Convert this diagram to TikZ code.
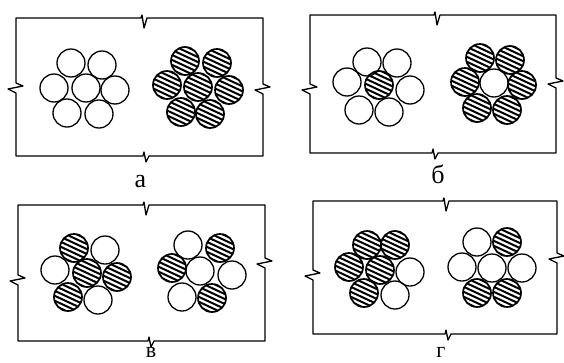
\documentclass[tikz,border=0pt]{standalone}
\usepackage{fontspec}
\setmainfont{Liberation Serif}
\tikzset{
  frame/.style={line width=1.3pt, line join=round, line cap=round},
  wcirc/.style={line width=1.3pt},
  hcirc/.style={line width=1.7pt},
  hatch/.style={line width=2pt},
  lbl/.style={anchor=base, inner sep=0pt, font=\fontsize{26}{28}\selectfont},
  lbls/.style={anchor=base, inner sep=0pt, font=\fontsize{22}{24}\selectfont}
}
\newcommand\frm[8]{%
  \draw[frame] (#1,#3) -- ({#5-2},#3) -- ({#5-1},{#3-3}) -- ({#5+1},{#3+10}) -- ({#5+4},#3)
    -- (#2,#3) -- (#2,{#8-5}) -- ({#2+7},{#8-2}) -- ({#2-8},{#8+1}) -- (#2,{#8+5})
    -- (#2,#4) -- ({#6+4},#4) -- ({#6+1},{#4+6}) -- ({#6-1},{#4-4}) -- ({#6-2},#4)
    -- (#1,#4) -- (#1,{#7+5}) -- ({#1-8},{#7+1}) -- ({#1+7},{#7-2}) -- (#1,{#7-5}) -- cycle;}
\newcommand\wc[2]{\draw[wcirc] (#1,#2) circle[radius=14pt];}
\newcommand\hc[2]{%
  \begin{scope}
    \clip (#1,#2) circle[radius=14pt];
    \foreach \k in {-5,...,5}
      \draw[hatch, shift={(#1,#2)}, rotate=-25] (-24,{\k*4.5}) -- (24,{\k*4.5});
  \end{scope}
  \draw[hcirc] (#1,#2) circle[radius=14pt];}
\begin{document}
\begin{tikzpicture}[x=1pt,y=-1pt]
\useasboundingbox (0,0) rectangle (564,362);
% frames
\frm{16}{263}{18}{156}{143}{145}{88}{89}
\frm{310}{556}{15}{153}{436}{434}{89}{83}
\frm{18}{265}{205}{341}{145}{150}{280}{263}
\frm{313}{557}{201}{334}{445}{447}{275}{258}
% panel a
\wc{86}{88}\wc{71}{63}\wc{102}{65}\wc{54}{88}\wc{115}{90}\wc{67}{113}\wc{99}{114}
\hc{198}{87}\hc{185}{61}\hc{217}{63}\hc{167}{85}\hc{229}{90}\hc{181}{112}\hc{210}{114}
% panel b
\wc{367}{62}\wc{397}{63}\wc{347}{82}\wc{410}{90}\wc{359}{110}\wc{389}{112}
\hc{379}{85}
\wc{494}{83}
\hc{480}{58}\hc{510}{60}\hc{465}{82}\hc{522}{85}\hc{477}{108}\hc{507}{110}
% panel v
\wc{105}{250}\wc{55}{270}\wc{98}{300}
\hc{87}{273}\hc{74}{248}\hc{117}{277}\hc{68}{297}
\wc{200}{271}\wc{188}{245}\wc{232}{275}\wc{182}{297}
\hc{220}{248}\hc{172}{268}\hc{212}{298}
% panel g
\wc{410}{272}\wc{395}{295}
\hc{380}{270}\hc{367}{245}\hc{395}{245}\hc{349}{267}\hc{364}{293}
\wc{492}{268}\wc{477}{242}\wc{462}{267}\wc{522}{268}
\hc{507}{242}\hc{477}{293}\hc{507}{293}
% labels
\node[lbl] (la) at (140.5,187) {а};
\node[lbl] (lb) at (438,183) {б};
\node[lbls] (lv) at (151,357) {в};
\node[lbls] (lg) at (441,357) {г};
\end{tikzpicture}
\end{document}
